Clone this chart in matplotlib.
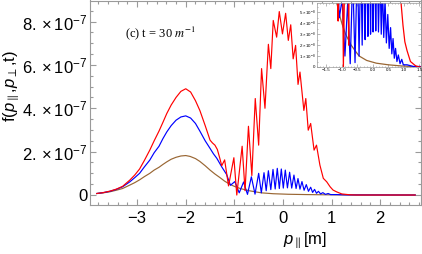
import matplotlib
matplotlib.use('Agg')
import matplotlib.pyplot as plt
from matplotlib.ticker import MultipleLocator

plt.rcParams['font.family'] = 'Liberation Sans'
plt.rcParams['mathtext.fontset'] = 'custom'
plt.rcParams['mathtext.rm'] = 'Liberation Sans'
plt.rcParams['mathtext.it'] = 'Liberation Sans:italic'

# curves, f in units of 1e-7
brown_p = [-3.83, -3.7, -3.56, -3.43, -3.3, -3.15, -3.05, -2.95, -2.85, -2.74, -2.65,
           -2.55, -2.47, -2.39, -2.3, -2.2, -2.1, -2.0, -1.91, -1.8, -1.71, -1.6,
           -1.5, -1.4, -1.3, -1.2, -1.09, -1.0, -0.88, -0.7, -0.55, -0.44, -0.2,
           0.11, 0.5, 0.9, 1.3, 2.72]
brown_f = [0.07, 0.1, 0.15, 0.22, 0.3, 0.46, 0.57, 0.7, 0.85, 1.0, 1.15,
           1.28, 1.41, 1.53, 1.65, 1.74, 1.8, 1.82, 1.78, 1.68, 1.55, 1.35,
           1.15, 0.97, 0.81, 0.64, 0.49, 0.4, 0.3, 0.2, 0.14, 0.1, 0.06,
           0.035, 0.02, 0.01, 0.004, 0.0]

blue_p = [-3.83, -3.7, -3.56, -3.43, -3.3, -3.15, -3.05, -2.95, -2.85, -2.74, -2.65,
          -2.55, -2.47, -2.39, -2.3, -2.2, -2.1, -2.0, -1.9, -1.8, -1.71, -1.6,
          -1.5, -1.43, -1.36, -1.26, -1.16,
          -1.08, -0.99, -0.90, -0.81, -0.73, -0.65, -0.575, -0.50, -0.445, -0.39,
          -0.345, -0.30, -0.25, -0.205, -0.16, -0.117, -0.075, -0.034, 0.007, 0.048,
          0.092, 0.137, 0.18, 0.226, 0.27, 0.309, 0.35, 0.391, 0.435, 0.48, 0.525,
          0.57, 0.61, 0.65, 0.69, 0.73, 0.775, 0.82, 0.875, 0.93, 0.98, 1.1, 1.3, 2.72]
blue_f = [0.07, 0.11, 0.17, 0.26, 0.38, 0.61, 0.8, 1.0, 1.3, 1.61, 1.95,
          2.25, 2.6, 2.91, 3.2, 3.45, 3.6, 3.65, 3.55, 3.3, 2.95, 2.5,
          2.15, 1.9, 1.69, 1.3, 0.95,
          0.45, 0.62, 0.1, 0.6, 0.03, 0.84, 0.04, 1.0, 0.1, 1.03,
          0.2, 1.12, 0.25, 1.18, 0.28, 1.23, 0.3, 1.2, 0.32, 1.15,
          0.33, 1.05, 0.32, 0.92, 0.3, 0.76, 0.27, 0.62, 0.22, 0.48, 0.17,
          0.36, 0.12, 0.26, 0.08, 0.17, 0.05, 0.11, 0.03, 0.07, 0.02, 0.02, 0.005, 0.0]

red_p = [-3.83, -3.7, -3.56, -3.43, -3.3, -3.15, -3.05, -2.95, -2.85, -2.74, -2.65,
         -2.55, -2.47, -2.39, -2.3, -2.2, -2.1, -2.0, -1.9, -1.8, -1.71, -1.6,
         -1.5, -1.45, -1.4, -1.35, -1.3, -1.26, -1.2, -1.12, -1.01, -0.95,
         -0.84, -0.78, -0.71, -0.64, -0.57, -0.5, -0.44, -0.37, -0.3, -0.25, -0.2,
         -0.13, -0.076, -0.01, 0.055, 0.11, 0.16, 0.21, 0.26, 0.31, 0.35, 0.43, 0.47,
         0.52, 0.57, 0.64, 0.69, 0.76, 0.83, 0.9, 0.97, 1.03, 1.1, 1.21, 1.38, 1.5, 2.72]
red_f = [0.07, 0.11, 0.18, 0.27, 0.4, 0.69, 0.92, 1.2, 1.6, 2.07, 2.5,
         2.95, 3.35, 3.76, 4.15, 4.5, 4.78, 4.9, 4.75, 4.35, 3.9, 3.2,
         2.53, 2.4, 2.3, 2.1, 1.7, 1.35, 1.62, 0.42, 1.72, 0.0,
         2.25, 0.2, 3.17, 0.9, 4.45, 2.3, 5.83, 4.0, 6.95, 5.83, 8.05,
         7.28, 8.46, 7.43, 8.38, 7.13, 7.85, 6.28, 6.9, 5.1, 5.67, 3.9, 4.45,
         2.99, 3.3, 2.07, 2.3, 1.38, 0.77, 0.61, 0.38, 0.23, 0.15, 0.05, 0.01, 0.0, 0.0]

curves = [(brown_p, brown_f, (0.6, 0.4, 0.2)),
          (blue_p, blue_f, (0.0, 0.0, 1.0)),
          (red_p, red_f, (1.0, 0.0, 0.0))]

main_yticks = [0, 2, 4, 6, 8]
inset_xticks = [-1.5, -1.0, -0.5, 0.0, 0.5, 1.0, 1.5]
inset_yticks = [0, 1, 2, 3, 4, 5]

frame_col = '#9a9a9a'


def style_frame(a, major, minor, width):
    for s in a.spines.values():
        s.set_color(frame_col)
        s.set_linewidth(width)
    a.tick_params(which='both', direction='in', top=True, right=True,
                  color=frame_col, width=width)
    a.tick_params(which='major', length=major)
    a.tick_params(which='minor', length=minor)


fig = plt.figure(figsize=(4.22, 2.54), dpi=100)
ax = fig.add_axes([90 / 422, 49 / 254, 331 / 422, 204.5 / 254])

for p, f, c in curves:
    ax.plot(p, [v * 1e-7 for v in f], color=c, lw=0.85)

ax.set_xlim(-3.97, 2.84)
ax.set_ylim(-0.46e-7, 8.97e-7)
ax.set_xticks([-3, -2, -1, 0, 1, 2])
ax.set_xticklabels(['\u22123', '\u22122', '\u22121', '0', '1', '2'])
ax.xaxis.set_minor_locator(MultipleLocator(0.2))
ax.set_yticks([v * 1e-7 for v in main_yticks])
ax.set_yticklabels(['0'] + [r'$%d.\times10^{-7}$' % v for v in main_yticks[1:]])
ax.yaxis.set_minor_locator(MultipleLocator(0.5e-7))
style_frame(ax, 4, 2, 0.8)
ax.tick_params(axis='x', labelsize=12, pad=4)
ax.tick_params(axis='y', labelsize=12, pad=2)

ax.set_xlabel(r'$p_{\parallel}$[m]', fontsize=12)
ax.xaxis.set_label_coords(0.65, -0.125)
ax.set_ylabel(r'f($p_{\parallel}$,$p_{\perp}$,t)', fontsize=12)
ax.yaxis.set_label_coords(-0.205, 0.58)

ax.text(0.106, 0.84, r'(c) t = 30 $m^{-1}$', transform=ax.transAxes,
        fontsize=9, family='Liberation Serif', math_fontfamily='stix', va='center')

# inset
ins = fig.add_axes([317 / 422, (254 - 67) / 254, 104 / 422, 64 / 254])
ins.set_facecolor('white')
for p, f, c in curves:
    ins.plot(p, [v * 1e-7 for v in f], color=c, lw=0.9)
ins.set_xlim(-1.8, 1.55)
ins.set_ylim(0, 5.85e-8)
ins.set_xticks(inset_xticks)
ins.set_xticklabels(['\u22121.5', '\u22121.0', '\u22120.5', '0.0', '0.5', '1.0', '1.5'])
ins.xaxis.set_minor_locator(MultipleLocator(0.1))
ins.set_yticks([v * 1e-8 for v in inset_yticks])
ins.set_yticklabels(['0'] + [r'$%d\times10^{-8}$' % v for v in inset_yticks[1:]])
ins.yaxis.set_minor_locator(MultipleLocator(0.5e-8))
style_frame(ins, 2, 1, 0.5)
ins.tick_params(labelsize=3.2, pad=1)

fig.savefig('out.png', dpi=100)
